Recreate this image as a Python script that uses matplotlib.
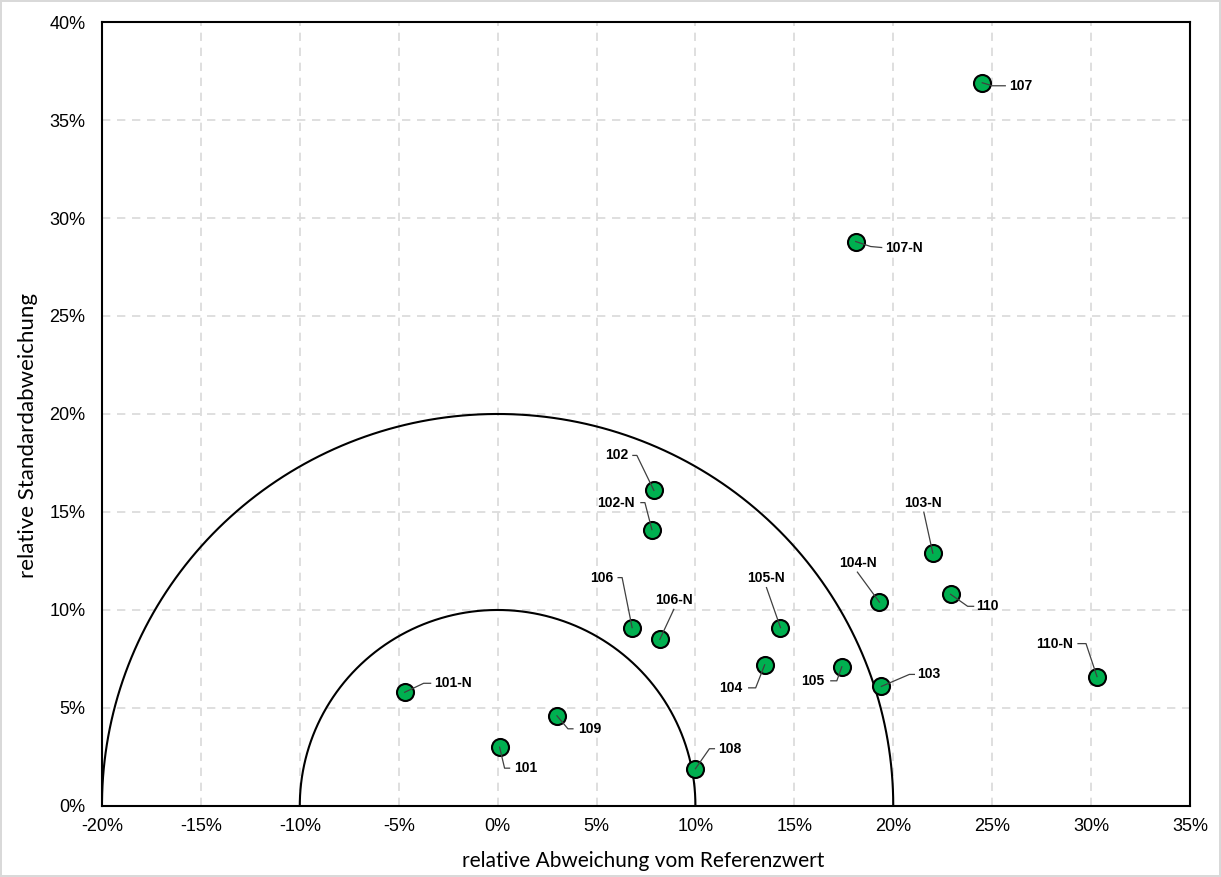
import matplotlib.pyplot as plt
import numpy as np
from matplotlib.ticker import MultipleLocator, PercentFormatter

# measured values (percent)
labels = ['101', '101-N', '102', '102-N', '103', '103-N', '104', '104-N',
          '105', '105-N', '106', '106-N', '107', '107-N', '108', '109',
          '110', '110-N']
rel_dev = [0.1, -4.7, 7.9, 7.8, 19.4, 22.0, 13.5, 19.3,
           17.4, 14.3, 6.8, 8.2, 24.5, 18.1, 10.0, 3.0,
           22.9, 30.3]
rel_std = [3.0, 5.8, 16.1, 14.1, 6.1, 12.9, 7.2, 10.4,
           7.1, 9.1, 9.1, 8.5, 36.9, 28.8, 1.9, 4.6,
           10.8, 6.6]
circle_radii = [10, 20]

# label placement in screen pixels (dx, dy down): text pos, align, elbow start, elbow end
label_pos = {
    '101': ((15, 21), 'left', (5, 21), (10, 21)),
    '101-N': ((30, -9), 'left', (19, -9), (26, -9)),
    '102': ((-26, -35), 'right', (-17, -35), (-21, -35)),
    '102-N': ((-17, -27), 'right', (-7, -27), (-11, -27)),
    '103': ((36, -12), 'left', (28, -12), (33, -12)),
    '103-N': ((-10, -50), 'center', (-9, -41), (-9, -41)),
    '104': ((-22, 23), 'right', (-9, 23), (-16, 23)),
    '104-N': ((-21, -39), 'center', (-22, -30), (-22, -30)),
    '105': ((-17, 14), 'right', (-5, 14), (-11, 14)),
    '105-N': ((-15, -50), 'center', (-14, -40), (-14, -40)),
    '106': ((-19, -50), 'right', (-10, -50), (-14, -50)),
    '106-N': ((14, -39), 'center', (14, -30), (14, -30)),
    '107': ((27, 3), 'left', (10, 3), (23, 3)),
    '107-N': ((29, 6), 'left', (15, 5), (26, 6)),
    '108': ((23, -20), 'left', (14, -20), (19, -20)),
    '109': ((21, 13), 'left', (11, 13), (16, 13)),
    '110': ((26, 12), 'left', (17, 12), (23, 12)),
    '110-N': ((-24, -33), 'right', (-11, -33), (-19, -33)),
}

plt.rcParams['font.family'] = ['Liberation Sans', 'DejaVu Sans']
plt.rcParams['axes.unicode_minus'] = False

fig = plt.figure(figsize=(12.21, 8.77), dpi=100, edgecolor='#d9d9d9', linewidth=1.5)
ax = fig.add_axes([0.0835, 0.081, 0.8911, 0.8939])

ax.set_xlim(-20, 35)
ax.set_ylim(0, 40)
ax.xaxis.set_major_locator(MultipleLocator(5))
ax.yaxis.set_major_locator(MultipleLocator(5))
ax.xaxis.set_major_formatter(PercentFormatter(decimals=0))
ax.yaxis.set_major_formatter(PercentFormatter(decimals=0))
ax.grid(True, color='#d9d9d9', linestyle=(0, (5, 4)), linewidth=1.2)
ax.set_axisbelow(True)
ax.tick_params(axis='both', length=0, labelsize=13)
ax.tick_params(axis='x', pad=9)
ax.tick_params(axis='y', pad=12)
for sp in ax.spines.values():
    sp.set_linewidth(1.5)

theta = np.linspace(0, np.pi, 300)
for r in circle_radii:
    ax.plot(r * np.cos(theta), r * np.sin(theta), color='black', lw=1.5, zorder=2)

ax.scatter(rel_dev, rel_std, s=150, color='#00b050', edgecolor='black',
           linewidth=1.5, zorder=3)

ax.set_xlabel('relative Abweichung vom Referenzwert', fontsize=15,
              family=['Lato', 'DejaVu Sans'], va='center')
ax.set_ylabel('relative Standardabweichung', fontsize=16,
              family=['Lato', 'DejaVu Sans'], va='center')
ax.xaxis.set_label_coords(0.497, -0.070)
ax.yaxis.set_label_coords(-0.068, 0.472)

# leader lines + labels
to_disp = ax.transData
to_data = ax.transData.inverted()
for name, x, y in zip(labels, rel_dev, rel_std):
    (tx, ty), ha, e1, e2 = label_pos[name]
    px, py = to_disp.transform((x, y))
    pts = [(px, py), (px + e1[0], py - e1[1]), (px + e2[0], py - e2[1])]
    pts = to_data.transform(pts)
    ax.plot(pts[:, 0], pts[:, 1], color='#404040', lw=0.9, zorder=4, clip_on=False)
    lx, ly = to_data.transform((px + tx, py - ty))
    ax.text(lx, ly, name, ha=ha, va='center', fontsize=10, fontweight='bold', zorder=5)

fig.savefig('out.png', dpi=100)
